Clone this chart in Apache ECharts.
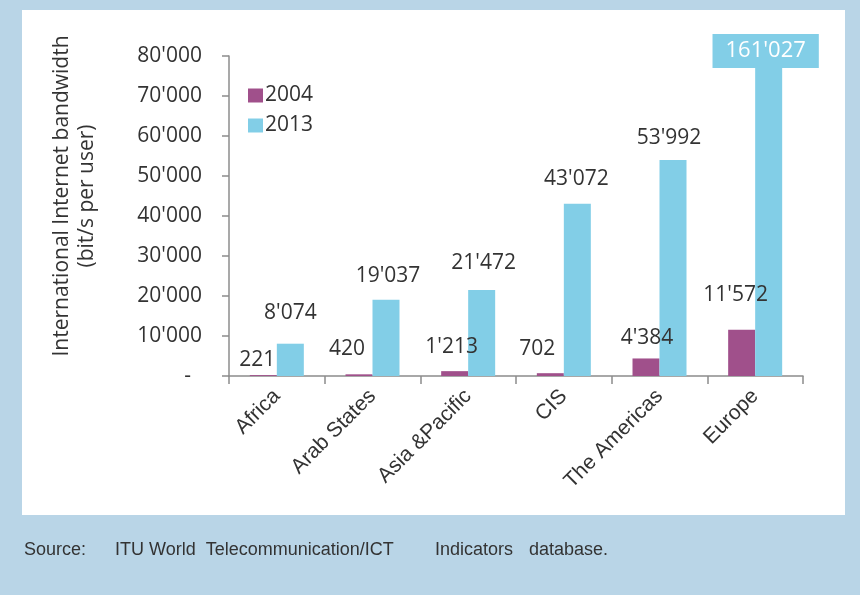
<!DOCTYPE html>
<html>
<head>
<meta charset="utf-8">
<script src="https://cdn.jsdelivr.net/npm/echarts@6/dist/echarts.min.js"></script>
<style>
html,body{margin:0;padding:0;background:#b9d5e7;}
#c{width:860px;height:595px;}
</style>
</head>
<body>
<div id="c"></div>
<script>
// ---- data ----
const categories = ['Africa', 'Arab States', 'Asia &Pacific', 'CIS', 'The Americas', 'Europe'];
const series2004 = [221, 420, 1213, 702, 4384, 11572];
const series2013 = [8074, 19037, 21472, 43072, 53992, 161027];
const yTicks = [0, 10000, 20000, 30000, 40000, 50000, 60000, 70000, 80000];
const seriesNames = ['2004', '2013'];

// ---- label nudges (style only, separate from data) ----
const shift2004 = [[-6, 0], [-12, -10], [-3, -9], [-13, -9], [1, -5], [-6, -19]];
const shift2013 = [[0, -15], [2, -8], [2, -12], [-1, -9], [-4, -7], [-3, -27]];

const FONT = "'Open Sans', sans-serif";
const C2004 = '#a0508b';
const C2013 = '#82cee7';

function fmt(v) {
  return String(v).replace(/\B(?=(\d{3})+(?!\d))/g, "'");
}

const yMax = yTicks[yTicks.length - 1];
const yStep = yTicks[1] - yTicks[0];

function buildData(values, shifts, isLast) {
  return values.map((v, i) => {
    const item = { value: v, label: { offset: shifts[i] } };
    if (isLast && v > yMax) {
      item.label = {
        position: 'insideTop',
        distance: 5,
        offset: shifts[i],
        color: '#ffffff',
        backgroundColor: C2013,
        padding: [6, 13, 6, 13],
        fontSize: 22
      };
    }
    return item;
  });
}

const chart = echarts.init(document.getElementById('c'), null, { renderer: 'canvas' });

chart.setOption({
  backgroundColor: '#b9d5e7',
  animation: false,
  graphic: [
    { type: 'rect', z: -10, shape: { x: 22, y: 10, width: 823, height: 505 }, style: { fill: '#ffffff' }, silent: true },
    {
      type: 'text', x: 75, y: 196, rotation: Math.PI / 2, z: 10,
      style: {
        text: 'International Internet bandwidth\n(bit/s per user)',
        align: 'center', verticalAlign: 'middle',
        font: "21px 'Open Sans', sans-serif", lineHeight: 25, fill: '#333333'
      }
    },
    { type: 'text', x: 24, y: 550, style: { text: 'Source:', font: "18px 'Liberation Sans', Arial, sans-serif", fill: '#333333', verticalAlign: 'middle' } },
    { type: 'text', x: 115, y: 550, style: { text: 'ITU World  Telecommunication/ICT', font: "18px 'Liberation Sans', Arial, sans-serif", fill: '#333333', verticalAlign: 'middle' } },
    { type: 'text', x: 435, y: 550, style: { text: 'Indicators', font: "18px 'Liberation Sans', Arial, sans-serif", fill: '#333333', verticalAlign: 'middle' } },
    { type: 'text', x: 529, y: 550, style: { text: 'database.', font: "18px 'Liberation Sans', Arial, sans-serif", fill: '#333333', verticalAlign: 'middle' } }
  ],
  legend: {
    orient: 'vertical',
    left: 248,
    top: 85,
    padding: 0,
    itemWidth: 15,
    itemHeight: 14,
    itemGap: 9,
    icon: 'rect',
    data: seriesNames,
    textStyle: { fontFamily: FONT, fontSize: 21, lineHeight: 21, color: '#333333', padding: [0, 0, 0, -3] }
  },
  grid: { left: 229, right: 57, top: 56, bottom: 219, containLabel: false },
  xAxis: {
    type: 'category',
    data: categories,
    axisLine: { lineStyle: { color: '#8c8c8c', width: 1.5 } },
    axisTick: { show: true, length: 8, alignWithLabel: false, lineStyle: { color: '#8c8c8c', width: 1.5 } },
    axisLabel: {
      rotate: 45, margin: 17, interval: 0,
      fontFamily: "'Liberation Sans', Arial, sans-serif", fontSize: 21, color: '#333333'
    }
  },
  yAxis: {
    type: 'value',
    min: yTicks[0],
    max: yMax,
    interval: yStep,
    splitLine: { show: false },
    axisLine: { show: true, lineStyle: { color: '#8c8c8c', width: 1.5 } },
    axisTick: { show: true, length: 7, lineStyle: { color: '#8c8c8c', width: 1.5 } },
    axisLabel: {
      margin: 27,
      fontFamily: FONT, fontSize: 21, color: '#333333',
      formatter: v => (v === 0 ? '-  ' : fmt(v))
    }
  },
  series: [
    {
      name: seriesNames[0], type: 'bar', barWidth: 27, barGap: '0%',
      itemStyle: { color: C2004 },
      label: { show: true, position: 'top', distance: 5, fontFamily: FONT, fontSize: 21, color: '#333333', formatter: p => fmt(p.value) },
      data: buildData(series2004, shift2004, false)
    },
    {
      name: seriesNames[1], type: 'bar', barWidth: 27, barGap: '0%',
      itemStyle: { color: C2013 },
      clip: true,
      label: { show: true, position: 'top', distance: 5, fontFamily: FONT, fontSize: 21, color: '#333333', formatter: p => fmt(p.value) },
      data: buildData(series2013, shift2013, true)
    }
  ]
});
</script>
</body>
</html>
